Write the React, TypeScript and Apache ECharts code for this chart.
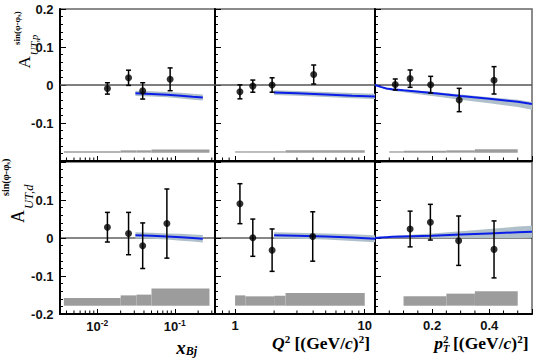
import React, { useEffect, useRef } from "react";
import * as echarts from "echarts";

// ---------- axes ----------
const Y_MIN = -0.2;
const Y_MAX = 0.2;
const SYS_BASE = -0.178;

const xBjRange = [0.0033, 0.33];
const q2Range = [0.7, 12];
const pt2Range = [0, 0.55];

const xBjMinorTicks = [0.004, 0.005, 0.006, 0.007, 0.008, 0.009, 0.02, 0.03, 0.04, 0.05, 0.06, 0.07, 0.08, 0.09, 0.2, 0.3];
const q2MinorTicks = [0.8, 0.9, 2, 3, 4, 5, 6, 7, 8, 9];
const pt2MinorTicks = [0.05, 0.1, 0.15, 0.25, 0.3, 0.35, 0.45, 0.5];

// ---------- proton (top row) ----------
const pXbj = [0.0135, 0.0253, 0.0385, 0.087];
const pXbjA = [-0.009, 0.019, -0.0155, 0.015];
const pXbjErr = [0.015, 0.02, 0.0215, 0.03];
const pQ2 = [1.09, 1.37, 1.93, 4.04];
const pQ2A = [-0.018, -0.003, 0.0, 0.0276];
const pQ2Err = [0.0184, 0.016, 0.019, 0.025];
const pPt2 = [0.071, 0.123, 0.195, 0.295, 0.417];
const pPt2A = [0.0013, 0.0167, 0.0008, -0.0395, 0.0123];
const pPt2Err = [0.0145, 0.0228, 0.022, 0.0307, 0.036];

// ---------- deuteron (bottom row) ----------
const dXbj = [0.0135, 0.0253, 0.0385, 0.079];
const dXbjA = [0.0284, 0.0117, -0.0203, 0.038];
const dXbjErr = [0.039, 0.0557, 0.06, 0.091];
const dQ2 = [1.09, 1.37, 1.93, 3.97];
const dQ2A = [0.0903, 0.0008, -0.032, 0.004];
const dQ2Err = [0.0526, 0.049, 0.0558, 0.065];
const dPt2 = [0.123, 0.194, 0.293, 0.417];
const dPt2A = [0.0237, 0.0416, -0.0071, -0.03];
const dPt2Err = [0.047, 0.047, 0.065, 0.075];

// ---------- model curves ----------
const curveXbj = [0.031, 0.05, 0.08, 0.12, 0.17, 0.23];
const pCurveXbj = [-0.022, -0.0235, -0.0255, -0.028, -0.031, -0.033];
const pBandXbj = [0.007, 0.007, 0.007, 0.0075, 0.008, 0.008];
const dCurveXbj = [0.007, 0.006, 0.004, 0.002, 0.0, -0.002];
const dBandXbj = [0.008, 0.008, 0.008, 0.009, 0.009, 0.01];

const curveQ2 = [2.0, 3, 5, 8, 12];
const pCurveQ2 = [-0.02, -0.022, -0.025, -0.028, -0.03];
const pBandQ2 = [0.006, 0.006, 0.0065, 0.007, 0.007];
const dCurveQ2 = [0.007, 0.006, 0.004, 0.001, -0.002];
const dBandQ2 = [0.008, 0.008, 0.008, 0.009, 0.009];

const curvePt2 = [0, 0.02, 0.04, 0.06, 0.1, 0.2, 0.3, 0.4, 0.5, 0.55];
const pCurvePt2 = [0, -0.005, -0.009, -0.011, -0.014, -0.021, -0.029, -0.036, -0.044, -0.05];
const pBandPt2Up = [0, 0.001, 0.001, 0.002, 0.002, 0.003, 0.004, 0.004, 0.005, 0.005];
const pBandPt2Dn = [0, 0.002, 0.003, 0.004, 0.005, 0.008, 0.01, 0.012, 0.014, 0.015];
const dCurvePt2 = [0, 0.001, 0.002, 0.003, 0.004, 0.006, 0.009, 0.012, 0.015, 0.0165];
const dBandPt2 = [0, 0.001, 0.002, 0.002, 0.003, 0.006, 0.009, 0.012, 0.015, 0.016];

// ---------- systematic bands ----------
const sysXbjEdges = [0.0037, 0.02, 0.032, 0.05, 0.28];
const pSysXbj = [0.0035, 0.006, 0.006, 0.008];
const dSysXbj = [0.02, 0.027, 0.029, 0.045];
const sysQ2Edges = [1.0, 1.2, 2.0, 2.45, 10];
const pSysQ2 = [0.0035, 0.0035, 0.0035, 0.006];
const dSysQ2 = [0.027, 0.0245, 0.026, 0.0334];
const pSysPt2Edges = [0.05, 0.1, 0.25, 0.35, 0.5];
const pSysPt2 = [0.0035, 0.005, 0.006, 0.0087];
const dSysPt2Edges = [0.1, 0.25, 0.35, 0.5];
const dSysPt2 = [0.0245, 0.0316, 0.0376];

// ---------- styles ----------
const BLUE = "#0a1ee8";
const BAND = "#b0c0ca";
const SYS_GREY = "#9c9c9c";
const SANS = '"Liberation Sans", Arial, sans-serif';
const SERIF = '"Liberation Serif", "Times New Roman", serif';

const COLS = [
  { left: 60, width: 155 },
  { left: 215, width: 160 },
  { left: 375, width: 157 },
];
const ROWS = [
  { top: 9, height: 152 },
  { top: 162, height: 152 },
];

type Panel = {
  x: number[]; a: number[]; err: number[];
  cx: number[]; cy: number[]; up: number[]; dn: number[];
  edges: number[]; sys: number[];
  range: number[]; minor: number[];
};

const panels: Panel[][] = [
  [
    { x: pXbj, a: pXbjA, err: pXbjErr, cx: curveXbj, cy: pCurveXbj, up: pBandXbj, dn: pBandXbj, edges: sysXbjEdges, sys: pSysXbj, range: xBjRange, minor: xBjMinorTicks },
    { x: pQ2, a: pQ2A, err: pQ2Err, cx: curveQ2, cy: pCurveQ2, up: pBandQ2, dn: pBandQ2, edges: sysQ2Edges, sys: pSysQ2, range: q2Range, minor: q2MinorTicks },
    { x: pPt2, a: pPt2A, err: pPt2Err, cx: curvePt2, cy: pCurvePt2, up: pBandPt2Up, dn: pBandPt2Dn, edges: pSysPt2Edges, sys: pSysPt2, range: pt2Range, minor: pt2MinorTicks },
  ],
  [
    { x: dXbj, a: dXbjA, err: dXbjErr, cx: curveXbj, cy: dCurveXbj, up: dBandXbj, dn: dBandXbj, edges: sysXbjEdges, sys: dSysXbj, range: xBjRange, minor: xBjMinorTicks },
    { x: dQ2, a: dQ2A, err: dQ2Err, cx: curveQ2, cy: dCurveQ2, up: dBandQ2, dn: dBandQ2, edges: sysQ2Edges, sys: dSysQ2, range: q2Range, minor: q2MinorTicks },
    { x: dPt2, a: dPt2A, err: dPt2Err, cx: curvePt2, cy: dCurvePt2, up: dBandPt2, dn: dBandPt2, edges: dSysPt2Edges, sys: dSysPt2, range: pt2Range, minor: pt2MinorTicks },
  ],
];

function buildSeries(gi: number, p: Panel, row: number): any[] {
  const ax = { xAxisIndex: gi, yAxisIndex: gi };
  const out: any[] = [];
  out.push({
    type: "line", ...ax, silent: true, z: 1, symbol: "none",
    data: [[p.range[0], 0], [p.range[1], 0]],
    lineStyle: { color: row === 0 ? "#555" : "#111", width: row === 0 ? 1.5 : 1 },
  });
  out.push({
    type: "custom", ...ax, silent: true, z: 2,
    data: p.cx.map((x, i) => [x, p.cy[i]]),
    renderItem: (params: any, api: any) => {
      if (params.dataIndex !== 0) return null;
      const pts: number[][] = [];
      for (let i = 0; i < p.cx.length; i++) pts.push(api.coord([p.cx[i], p.cy[i] + p.up[i]]));
      for (let i = p.cx.length - 1; i >= 0; i--) pts.push(api.coord([p.cx[i], p.cy[i] - p.dn[i]]));
      return { type: "polygon", shape: { points: pts }, style: { fill: BAND } };
    },
  });
  out.push({
    type: "line", ...ax, silent: true, z: 3, symbol: "none",
    data: p.cx.map((x, i) => [x, p.cy[i]]),
    lineStyle: { color: BLUE, width: 2 },
  });
  out.push({
    type: "custom", ...ax, silent: true, z: 3,
    data: p.sys.map((h, i) => [p.edges[i], p.edges[i + 1], h]),
    encode: { x: [0, 1], y: 2 },
    renderItem: (params: any, api: any) => {
      const a = api.coord([api.value(0), SYS_BASE + api.value(2)]);
      const b = api.coord([api.value(1), SYS_BASE]);
      return { type: "rect", shape: { x: a[0], y: a[1], width: b[0] - a[0], height: b[1] - a[1] }, style: { fill: SYS_GREY } };
    },
  });
  out.push({
    type: "custom", ...ax, silent: true, z: 4,
    data: p.x.map((x, i) => [x, p.a[i], p.err[i]]),
    encode: { x: 0, y: 1 },
    renderItem: (params: any, api: any) => {
      const x = api.value(0), y = api.value(1), e = api.value(2);
      const t = api.coord([x, y + e]);
      const b = api.coord([x, y - e]);
      const c = 2.5;
      const st = { stroke: "#000", lineWidth: 1.5 };
      return {
        type: "group",
        children: [
          { type: "line", shape: { x1: t[0], y1: t[1], x2: b[0], y2: b[1] }, style: st },
          { type: "line", shape: { x1: t[0] - c, y1: t[1], x2: t[0] + c, y2: t[1] }, style: st },
          { type: "line", shape: { x1: b[0] - c, y1: b[1], x2: b[0] + c, y2: b[1] }, style: st },
        ],
      };
    },
  });
  out.push({
    type: "scatter", ...ax, silent: true, z: 5, symbol: "circle", symbolSize: 7,
    data: p.x.map((x, i) => [x, p.a[i]]),
    itemStyle: { color: "#000" },
  });
  out.push({
    type: "custom", ...ax, silent: true, z: 6, clip: false,
    data: p.minor.map((v) => [v, Y_MIN]),
    renderItem: (params: any, api: any) => {
      const q = api.coord([api.value(0), api.value(1)]);
      return { type: "line", shape: { x1: q[0], y1: q[1], x2: q[0], y2: q[1] - 3.5 }, style: { stroke: "#000", lineWidth: 1 } };
    },
  });
  return out;
}

const labelBase = { fontFamily: SANS, fontWeight: "bold", fontSize: 13, color: "#111" };

function xLabelFormatter(ci: number) {
  return (v: number) => {
    if (ci === 0) {
      const e = Math.log10(v);
      const r = Math.round(e);
      if (Math.abs(e - r) > 0.01) return "";
      return `{b|10}{s|${r}}`;
    }
    if (ci === 1) {
      const e = Math.log10(v);
      const r = Math.round(e);
      if (Math.abs(e - r) > 0.01) return "";
      return String(Math.round(v));
    }
    if (Math.abs(v - 0.2) < 1e-6) return "0.2";
    if (Math.abs(v - 0.4) < 1e-6) return "0.4";
    return "";
  };
}

// rotated y-axis title (reads bottom to top). Main "A" and subscript share one rich line whose
// height H sets how far the subscript sits below the A; the superscript is a separate text.
function yTitle(aCx: number, y0: number, sub: string, s: { a: number; sub: number; sup: number; off: number }, supScreen: number[]) {
  const aLh = s.a;
  const subLh = s.sub + 1;
  const H = aLh / 2 + s.off + subLh / 2;
  const aOffset = aLh / 2 - H / 2; // A centre relative to block middle
  const x0 = aCx - aOffset;
  return {
    type: "group",
    x: x0,
    y: y0,
    rotation: Math.PI / 2,
    silent: true,
    children: [
      {
        type: "text", x: 0, y: 0,
        style: {
          text: `{a|A}{g| }{b|${sub}}`, align: "left", verticalAlign: "middle",
          rich: {
            a: { fontFamily: SERIF, fontSize: s.a, fill: "#000", lineHeight: aLh, verticalAlign: "top" },
            g: { fontFamily: SERIF, fontSize: 4, fill: "#000", lineHeight: H, verticalAlign: "middle" },
            b: { fontFamily: SERIF, fontStyle: "italic", fontSize: s.sub, fill: "#000", lineHeight: subLh, verticalAlign: "bottom" },
          },
        },
      },
      {
        type: "text", x: y0 - supScreen[1], y: supScreen[0] - x0,
        style: {
          text: "{a|sin(φ-φ}{s|s}{a|)}", align: "left", verticalAlign: "middle",
          rich: {
            a: { fontFamily: SERIF, fontSize: s.sup, fontWeight: "bold", fill: "#000", lineHeight: s.sup + 1 },
            s: { fontFamily: SERIF, fontSize: s.sup * 0.7, fontWeight: "bold", fill: "#000", lineHeight: s.sup * 0.8, verticalAlign: "bottom" },
          },
        },
      },
    ],
  };
}

function buildOption() {
  const grid: any[] = [];
  const xAxis: any[] = [];
  const yAxis: any[] = [];
  let series: any[] = [];
  ROWS.forEach((r, ri) => {
    COLS.forEach((c, ci) => {
      const gi = ri * 3 + ci;
      const p = panels[ri][ci];
      grid.push({
        left: c.left, top: r.top, width: c.width, height: r.height,
        show: true, borderColor: "#666", borderWidth: 1.5, backgroundColor: "transparent",
        containLabel: false, outerBoundsMode: "none",
      });
      xAxis.push({
        gridIndex: gi,
        type: ci < 2 ? "log" : "value",
        logBase: 10,
        min: p.range[0], max: p.range[1],
        ...(ci === 2 ? { interval: 0.2 } : {}),
        position: "bottom",
        axisLine: { show: true, onZero: false, lineStyle: { color: "#000", width: 2 } },
        axisTick: { show: true, inside: true, length: 5, lineStyle: { color: "#000", width: 1 } },
        minorTick: { show: false },
        splitLine: { show: false },
        axisLabel: {
          show: ri === 1,
          ...labelBase,
          margin: ci === 0 ? 4.5 : 5,
          formatter: xLabelFormatter(ci),
          rich: {
            b: { ...labelBase, lineHeight: 15 },
            s: { ...labelBase, fontSize: 8.5, lineHeight: 8, verticalAlign: "top" },
          },
        },
      });
      yAxis.push({
        gridIndex: gi,
        type: "value",
        min: Y_MIN, max: Y_MAX, interval: 0.1,
        axisLine: { show: true, onZero: false, lineStyle: { color: "#000", width: 2 } },
        axisTick: { show: true, inside: true, length: 6, lineStyle: { color: "#000", width: 1 } },
        minorTick: { show: true, splitNumber: 5, length: 3, lineStyle: { color: "#000", width: 1 } },
        splitLine: { show: false },
        axisLabel: {
          show: ci === 0,
          ...labelBase,
          margin: 6.5,
          formatter: (v: number) => {
            if (ri === 0 && v < -0.15) return "";
            if (ri === 1 && v > 0.15) return "";
            const r = Math.round(v * 10) / 10;
            return r === 0 ? "0" : String(r);
          },
        },
      });
      series = series.concat(buildSeries(gi, p, ri));
    });
  });

  const tx = (o: any) => ({ type: "text", silent: true, ...o });
  const graphic = [
    yTitle(24, 68.5, "UT,p", { a: 17, sub: 10.5, sup: 9, off: 10.5 }, [16.5, 45]),
    yTitle(18, 223, "UT,d", { a: 18, sub: 12.5, sup: 10, off: 11 }, [5.5, 196]),
    // x titles
    tx({
      x: 197, y: 347,
      style: {
        text: "{x|x}{s|Bj}", align: "right", verticalAlign: "middle",
        rich: {
          x: { fontFamily: SERIF, fontStyle: "italic", fontWeight: "bold", fontSize: 19, fill: "#000", lineHeight: 20 },
          s: { fontFamily: SERIF, fontStyle: "italic", fontWeight: "bold", fontSize: 12, fill: "#000", lineHeight: 12, verticalAlign: "bottom" },
        },
      },
    }),
    tx({
      x: 370, y: 343,
      style: {
        text: "{q|Q}{u|2}{m| [(GeV/}{i|c}{m|)}{u|2}{m|]}", align: "right", verticalAlign: "middle",
        rich: {
          q: { fontFamily: SERIF, fontStyle: "italic", fontWeight: "bold", fontSize: 17.5, fill: "#000", lineHeight: 19 },
          m: { fontFamily: SERIF, fontWeight: "bold", fontSize: 17.5, fill: "#000", lineHeight: 19 },
          i: { fontFamily: SERIF, fontStyle: "italic", fontWeight: "bold", fontSize: 17.5, fill: "#000", lineHeight: 19 },
          u: { fontFamily: SERIF, fontWeight: "bold", fontSize: 11, fill: "#000", lineHeight: 10, verticalAlign: "top" },
        },
      },
    }),
    tx({
      x: 528.5, y: 343,
      style: {
        text: "{m|[(GeV/}{i|c}{m|)}{u|2}{m|]}", align: "right", verticalAlign: "middle",
        rich: {
          m: { fontFamily: SERIF, fontWeight: "bold", fontSize: 17.5, fill: "#000", lineHeight: 19 },
          i: { fontFamily: SERIF, fontStyle: "italic", fontWeight: "bold", fontSize: 17.5, fill: "#000", lineHeight: 19 },
          u: { fontFamily: SERIF, fontWeight: "bold", fontSize: 11, fill: "#000", lineHeight: 10, verticalAlign: "top" },
        },
      },
    }),
    tx({ x: 443, y: 343, style: { text: "p", fontFamily: SERIF, fontStyle: "italic", fontWeight: "bold", fontSize: 17.5, fill: "#000", align: "right", verticalAlign: "middle" } }),
    tx({ x: 443, y: 338.5, style: { text: "2", fontFamily: SERIF, fontWeight: "bold", fontSize: 11, fill: "#000", align: "left", verticalAlign: "middle" } }),
    tx({ x: 443, y: 348.5, style: { text: "T", fontFamily: SERIF, fontStyle: "italic", fontWeight: "bold", fontSize: 10.5, fill: "#000", align: "left", verticalAlign: "middle" } }),
  ];

  return {
    animation: false,
    backgroundColor: "#fff",
    textStyle: { fontFamily: SANS },
    grid, xAxis, yAxis, series, graphic,
  };
}

export default function App() {
  const ref = useRef<HTMLDivElement>(null);
  useEffect(() => {
    if (!ref.current) return;
    const chart = echarts.init(ref.current, null, { renderer: "svg" });
    chart.setOption(buildOption() as any);
    return () => chart.dispose();
  }, []);
  return (
    <div
      ref={ref}
      style={{ position: "absolute", left: 0, top: 0, width: 550, height: 360, background: "#fff" }}
    />
  );
}
